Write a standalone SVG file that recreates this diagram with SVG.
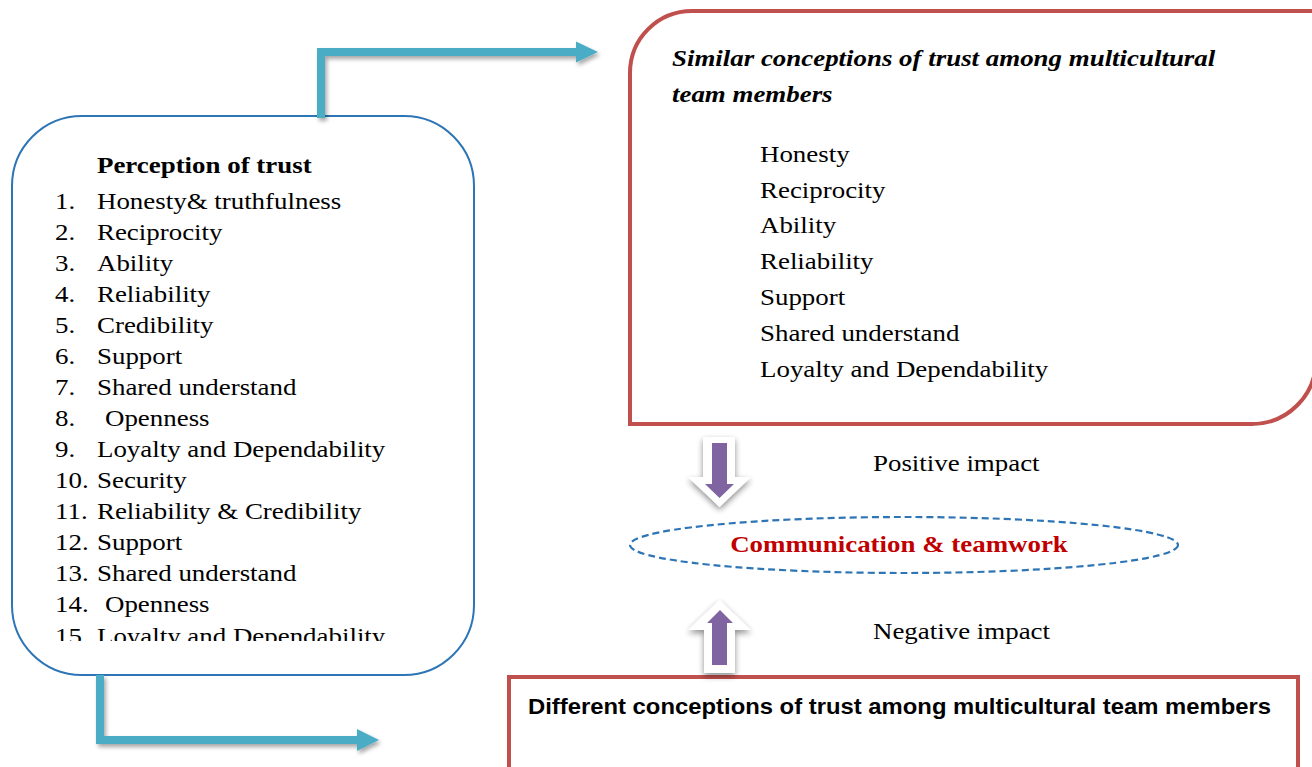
<svg xmlns="http://www.w3.org/2000/svg" width="1312" height="767" viewBox="0 0 1312 767">
  <defs>
    <style>
      .serif { font-family: "Liberation Serif", "Times New Roman", serif; font-size: 23.6px; fill: #000; }
      .bold { font-weight: bold; }
      .ital { font-style: italic; }
      .teal { fill: none; stroke: #4BACC6; stroke-width: 8; stroke-linejoin: miter; stroke-linecap: butt; }
      .tealHead { fill: #4BACC6; }
      .redBox { fill: #fff; stroke: #C0504D; stroke-width: 4; }
      .blueBox { fill: #fff; stroke: #2E75B6; stroke-width: 2; }
      .arrowOuter { fill: #fff; }
      .arrowInner { fill: #8064A2; }
    </style>
    <filter id="shadow" x="-20%" y="-20%" width="140%" height="150%">
      <feGaussianBlur in="SourceAlpha" stdDeviation="2"/>
      <feOffset dx="1.5" dy="2.5" result="b"/>
      <feComponentTransfer><feFuncA type="linear" slope="0.35"/></feComponentTransfer>
      <feMerge><feMergeNode/><feMergeNode in="SourceGraphic"/></feMerge>
    </filter>
    <filter id="blockShadow" x="-40%" y="-30%" width="180%" height="160%">
      <feGaussianBlur in="SourceAlpha" stdDeviation="3"/>
      <feOffset dx="0" dy="3" result="b"/>
      <feComponentTransfer><feFuncA type="linear" slope="0.45"/></feComponentTransfer>
      <feMerge><feMergeNode/><feMergeNode in="SourceGraphic"/></feMerge>
    </filter>
    <clipPath id="listClip">
      <rect x="0" y="0" width="1312" height="641"/>
    </clipPath>
  </defs>

  <rect width="1312" height="767" fill="#fff"/>

  <!-- Left node: perception of trust -->
  <g id="perception">
    <rect class="blueBox" x="12" y="116" width="462" height="559" rx="70" ry="70"/>
    <g transform="scale(1.14 1)" clip-path="url(#listClip)">
      <text class="serif bold" x="85.09" y="173">Perception of trust</text>
      <text class="serif" x="48.25" y="209">1.</text><text class="serif" x="85.09" y="209">Honesty&amp; truthfulness</text>
      <text class="serif" x="48.25" y="240">2.</text><text class="serif" x="85.09" y="240">Reciprocity</text>
      <text class="serif" x="48.25" y="271">3.</text><text class="serif" x="85.09" y="271">Ability</text>
      <text class="serif" x="48.25" y="302">4.</text><text class="serif" x="85.09" y="302">Reliability</text>
      <text class="serif" x="48.25" y="333">5.</text><text class="serif" x="85.09" y="333">Credibility</text>
      <text class="serif" x="48.25" y="364">6.</text><text class="serif" x="85.09" y="364">Support</text>
      <text class="serif" x="48.25" y="395">7.</text><text class="serif" x="85.09" y="395">Shared understand</text>
      <text class="serif" x="48.25" y="426">8.</text><text class="serif" x="92.11" y="426">Openness</text>
      <text class="serif" x="48.25" y="457">9.</text><text class="serif" x="85.09" y="457">Loyalty and Dependability</text>
      <text class="serif" x="48.25" y="488">10.</text><text class="serif" x="85.09" y="488">Security</text>
      <text class="serif" x="48.25" y="519">11.</text><text class="serif" x="85.09" y="519">Reliability &amp; Credibility</text>
      <text class="serif" x="48.25" y="550">12.</text><text class="serif" x="85.09" y="550">Support</text>
      <text class="serif" x="48.25" y="581">13.</text><text class="serif" x="85.09" y="581">Shared understand</text>
      <text class="serif" x="48.25" y="612">14.</text><text class="serif" x="92.11" y="612">Openness</text>
      <text class="serif" x="48.25" y="644">15.</text><text class="serif" x="85.09" y="644">Loyalty and Dependability</text>
    </g>
  </g>

  <!-- Top right node: similar conceptions -->
  <g id="similar">
    <path class="redBox" d="M630,424 V73 A62,62 0 0 1 692,11 H1316 V360 A64,64 0 0 1 1252,424 Z"/>
    <g transform="scale(1.14 1)">
      <text class="serif bold ital" x="589.47" y="66">Similar conceptions of trust among multicultural</text>
      <text class="serif bold ital" x="589.47" y="102">team members</text>
      <text class="serif" x="666.67" y="162">Honesty</text>
      <text class="serif" x="666.67" y="198">Reciprocity</text>
      <text class="serif" x="666.67" y="233.5">Ability</text>
      <text class="serif" x="666.67" y="269">Reliability</text>
      <text class="serif" x="666.67" y="305">Support</text>
      <text class="serif" x="666.67" y="341">Shared understand</text>
      <text class="serif" x="666.67" y="377">Loyalty and Dependability</text>
    </g>
  </g>

  <!-- Centre node: communication ellipse -->
  <g id="communication">
    <ellipse cx="904" cy="545" rx="274" ry="28" fill="none" stroke="#2E75B6" stroke-width="2.2" stroke-dasharray="7 4"/>
    <g transform="scale(1.14 1)">
      <text class="serif bold" x="788.6" y="552" text-anchor="middle" style="fill:#C00000">Communication &amp; teamwork</text>
    </g>
  </g>

  <!-- Bottom node: different conceptions -->
  <g id="different">
    <rect class="redBox" x="509" y="677" width="789" height="200"/>
    <text x="528" y="714" font-family="'Liberation Sans', Arial, sans-serif" font-weight="bold" font-size="22" textLength="743" lengthAdjust="spacingAndGlyphs" fill="#000">Different conceptions of trust among multicultural team members</text>
  </g>

  <!-- Impact labels -->
  <g id="labels" transform="scale(1.14 1)">
    <text class="serif" x="765.79" y="471">Positive impact</text>
    <text class="serif" x="765.79" y="639">Negative impact</text>
  </g>

  <!-- Connectors -->
  <g id="connectors">
    <g filter="url(#shadow)">
      <path class="teal" d="M321,118 V52 H578"/>
      <polygon class="tealHead" points="576,41.5 598,52 576,62.5"/>
    </g>
    <g filter="url(#shadow)">
      <path class="teal" d="M100,675 V740 H358"/>
      <polygon class="tealHead" points="357,729 379,740 357,751"/>
    </g>
    <g filter="url(#blockShadow)">
      <polygon class="arrowOuter" points="703,437 735,437 735,477 751,477 719.5,507 688,477 703,477"/>
    </g>
    <polygon class="arrowInner" points="712,443 727,443 727,484 734,484 719.5,498 705,484 712,484"/>
    <g filter="url(#blockShadow)">
      <polygon class="arrowOuter" points="719.5,600 751,630 735,630 735,673 704,673 704,630 688,630"/>
    </g>
    <polygon class="arrowInner" points="720,610 733,623 727,623 727,665 712,665 712,623 707,623"/>
  </g>
</svg>
